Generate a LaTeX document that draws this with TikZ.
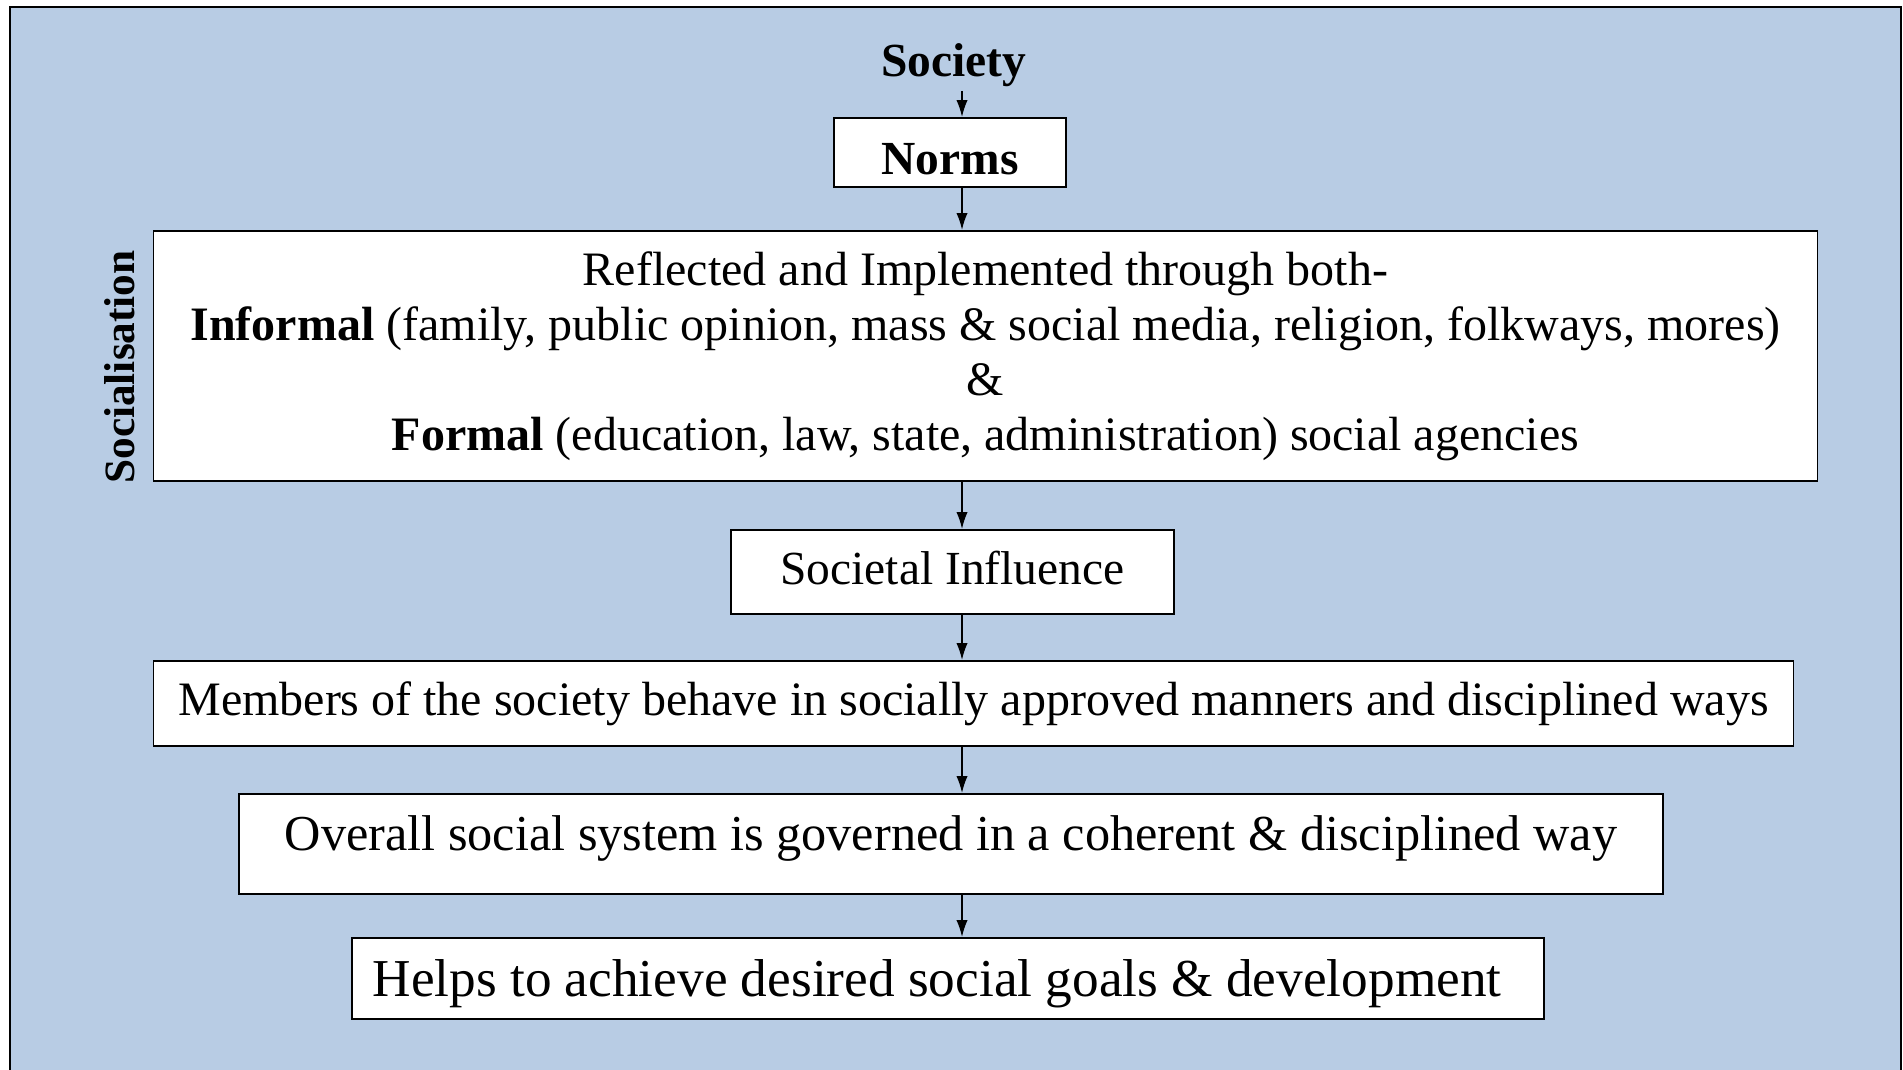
\documentclass[tikz,border=0pt]{standalone}
\usepackage{fontspec}
\setmainfont{Liberation Serif}
\usetikzlibrary{arrows.meta,positioning}

\definecolor{panelblue}{HTML}{B8CCE4}

\tikzset{
  stage/.style={draw=black, line width=0.55pt, fill=white, inner sep=0pt, align=center},
  flow/.style={-{Latex[length=4.8pt,width=3.2pt]}, line width=0.45pt},
}

\begin{document}
\begin{tikzpicture}[x=0.01cm, y=-0.01cm]

  \useasboundingbox (0,0) rectangle (1903,1070);

  % background panel, open at the bottom
  \fill[panelblue] (10,7) rectangle (1901,1070);
  \draw[line width=0.75pt] (10,1070) -- (10,7) -- (1901,7) -- (1901,1070);

  % all the arrows run down one vertical line
  \coordinate (axis) at (962,0);

  \node[inner sep=1pt, font=\fontsize{13.5}{16}\selectfont\bfseries] (society) at (954,65) {Society};

  \node[stage, minimum width=2.32cm, minimum height=0.69cm, text height=12.6pt, text depth=0pt,
        font=\fontsize{13.5}{16}\selectfont\bfseries] (norms) at (950,152.5) {Norms};

  \node[stage, minimum width=16.63cm, minimum height=2.50cm,
        font=\fontsize{13.65}{15.6}\selectfont] (agencies) at (985.5,356) {%
    Reflected and Implemented through both-\\
    \textbf{Informal} (family, public opinion, mass \& social media, religion, folkways, mores)\\
    \&\\
    \textbf{Formal} (education, law, state, administration) social agencies};

  \node[rotate=90, font=\fontsize{12.3}{14}\selectfont\bfseries] (socialisation) at (120,367) {Socialisation};

  \node[stage, minimum width=4.43cm, minimum height=0.84cm, text height=9.3pt, text depth=2.2pt,
        font=\fontsize{13.5}{16}\selectfont] (influence) at (952.5,572) {Societal Influence};

  \node[stage, minimum width=16.39cm, minimum height=0.85cm,
        font=\fontsize{13.65}{16}\selectfont] (members) at (973.5,703.5)
        {Members of the society behave in socially approved manners and disciplined ways};

  \node[stage, minimum width=14.24cm, minimum height=1.00cm, text height=9.8pt, text depth=5.9pt,
        font=\fontsize{14.3}{17}\selectfont] (system) at (951,844)
        {Overall social system is governed in a coherent \& disciplined way};

  \node[stage, minimum width=11.92cm, minimum height=0.81cm, text height=13.7pt, text depth=3.3pt,
        font=\fontsize{15.15}{18}\selectfont] (goals) at (948,978.5)
        {Helps to achieve desired social goals \& development\kern0.22cm};

  % connectors
  \draw[flow] (society.south -| axis) -- (norms.north -| axis);
  \foreach \a/\b in {norms/agencies, agencies/influence, influence/members,
                     members/system, system/goals}
    \draw[flow] (\a.south -| axis) -- (\b.north -| axis);

\end{tikzpicture}
\end{document}
